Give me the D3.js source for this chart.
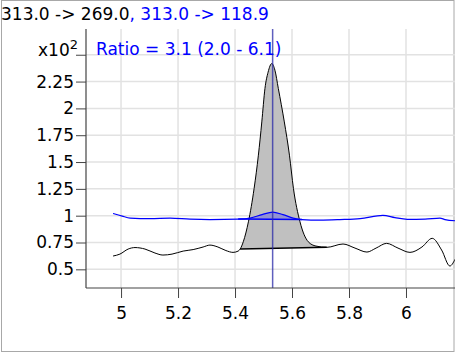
<!DOCTYPE html>
<html>
<head>
<meta charset="utf-8">
<script src="https://cdn.jsdelivr.net/npm/d3@7"></script>
<style>
  html, body { margin: 0; padding: 0; background: #fff; }
  svg { display: block; font-family: "DejaVu Sans", sans-serif; }
</style>
</head>
<body>
<div id="chart"></div>
<script>
// retention times (min) and intensities for the two transitions
const lightTimes = [4.972, 4.996, 5.025, 5.049, 5.084, 5.119, 5.147, 5.179, 5.218, 5.253, 5.288, 5.312,
  5.340, 5.368, 5.393, 5.411, 5.418, 5.429, 5.447, 5.467, 5.482, 5.494, 5.505, 5.516, 5.529, 5.540,
  5.552, 5.573, 5.591, 5.605, 5.628, 5.657, 5.684, 5.722, 5.779, 5.821, 5.863, 5.895, 5.932, 5.972,
  6.014, 6.056, 6.092, 6.125, 6.154, 6.172];
const lightValues = [62.4, 64.2, 68.9, 70.3, 68.9, 65.2, 63.3, 64.2, 67.0, 68.4, 70.8, 72.6,
  70.8, 67.5, 65.8, 67.0, 68.9, 75.7, 94.3, 125.4, 156.4, 187.4, 218.5, 233.7, 241.8, 235.6,
  218.5, 187.4, 156.4, 125.4, 94.3, 75.7, 71.7, 70.5, 73.6, 69.8, 66.1, 69.8, 74.2, 69.8,
  65.8, 70.8, 78.9, 68.0, 53.1, 59.3];

const heavyTimes = [4.972, 5.004, 5.032, 5.102, 5.172, 5.242, 5.312, 5.411, 5.453, 5.495, 5.532,
  5.568, 5.604, 5.635, 5.698, 5.768, 5.839, 5.919, 5.961, 6.004, 6.067, 6.119, 6.137, 6.172];
const heavyValues = [102.1, 99.6, 97.8, 97.3, 97.8, 96.8, 96.4, 96.8, 97.8, 101.0, 103.4,
  101.0, 97.8, 96.4, 95.9, 96.4, 97.3, 100.3, 98.2, 96.6, 96.8, 97.8, 96.4, 95.3];

// integration boundaries [start, end] for each peak
const lightPeak = [5.418, 5.722];
const heavyPeak = [5.411, 5.635];
const retentionTime = 5.532;

const xTicks = [5, 5.2, 5.4, 5.6, 5.8, 6];
const yTicks = [50, 75, 100, 125, 150, 175, 200, 225, 250];

const width = 455, height = 353;
const margin = { top: 29, right: 0, bottom: 65, left: 86 };
const plotW = width - margin.left - margin.right;
const plotH = height - margin.top - margin.bottom;

const svg = d3.select("#chart").append("svg")
  .attr("width", width)
  .attr("height", height);

// outer frame
svg.append("rect")
  .attr("x", 1.5).attr("y", 0.5)
  .attr("width", width - 2.5).attr("height", height - 2)
  .attr("fill", "none")
  .attr("stroke", "#a8a8a8");

const x = d3.scaleLinear().domain([4.877, 6.172]).range([0, plotW]);
const y = d3.scaleLinear().domain([32.6, 274]).range([plotH, 0]);

const g = svg.append("g").attr("transform", `translate(${margin.left},${margin.top})`);

svg.append("defs").append("clipPath").attr("id", "plot-clip")
  .append("rect").attr("width", plotW).attr("height", plotH);

// grid
g.append("g").selectAll("line.vg").data(xTicks).join("line")
  .attr("x1", d => x(d)).attr("x2", d => x(d))
  .attr("y1", 0).attr("y2", plotH)
  .attr("stroke", "#e2e2e2").attr("stroke-width", 1.5);
g.append("g").selectAll("line.hg").data(yTicks).join("line")
  .attr("x1", 0).attr("x2", plotW)
  .attr("y1", d => y(d)).attr("y2", d => y(d))
  .attr("stroke", "#e2e2e2").attr("stroke-width", 1.5);

const light = lightTimes.map((t, i) => ({ t, v: lightValues[i] }));
const heavy = heavyTimes.map((t, i) => ({ t, v: heavyValues[i] }));

const line = d3.line().x(d => x(d.t)).y(d => y(d.v)).curve(d3.curveMonotoneX);

const plot = g.append("g").attr("clip-path", "url(#plot-clip)");

// filled peak areas, closed by a straight baseline
function drawPeak(data, bounds, fill, stroke) {
  const pts = data.filter(d => d.t >= bounds[0] && d.t <= bounds[1]);
  const first = pts[0], last = pts[pts.length - 1];
  const path = line(pts) + `L${x(first.t)},${y(first.v)}Z`;
  plot.append("path")
    .attr("d", path)
    .attr("fill", fill)
    .attr("stroke", "none");
  plot.append("line")
    .attr("x1", x(first.t)).attr("y1", y(first.v))
    .attr("x2", x(last.t)).attr("y2", y(last.v))
    .attr("stroke", stroke).attr("stroke-width", 1.5);
}

drawPeak(light, lightPeak, "#c0c0c0", "#000");

plot.append("path")
  .datum(light)
  .attr("d", line)
  .attr("fill", "none")
  .attr("stroke", "#000")
  .attr("stroke-width", 1);

drawPeak(heavy, heavyPeak, "rgba(40,40,255,0.3)", "#0000ff");

plot.append("path")
  .datum(heavy)
  .attr("d", line)
  .attr("fill", "none")
  .attr("stroke", "#0000ff")
  .attr("stroke-width", 1.2);

// retention time marker
g.append("line")
  .attr("x1", x(retentionTime)).attr("x2", x(retentionTime))
  .attr("y1", 0).attr("y2", plotH)
  .attr("stroke", "#2a2aa8").attr("stroke-opacity", 0.75).attr("stroke-width", 1.5);

// axes
const yAxis = g.append("g")
  .call(d3.axisLeft(y).tickValues(yTicks).tickSize(10).tickPadding(2)
    .tickFormat(d => d === 250 ? "" : String(d / 100)));
const xAxis = g.append("g")
  .attr("transform", `translate(0,${plotH})`)
  .call(d3.axisBottom(x).tickValues(xTicks).tickSize(10).tickPadding(9)
    .tickFormat(d => String(d)));

[xAxis, yAxis].forEach(a => {
  a.select(".domain").attr("stroke", "#444").attr("stroke-width", 1.2);
  a.selectAll(".tick line").attr("stroke", "#444");
  a.selectAll("text").attr("font-size", 17).attr("fill", "#000")
    .attr("font-family", "DejaVu Sans, sans-serif");
});
// y axis line runs the full height
yAxis.select(".domain").attr("d", `M0,0V${plotH}`);
xAxis.select(".domain").attr("d", `M0,0H${plotW}`);

// x10^2 multiplier in place of the top label
const mult = g.append("text")
  .attr("x", -8).attr("y", y(250) + 1)
  .attr("text-anchor", "end")
  .attr("font-size", 17);
mult.append("tspan").text("x10");
mult.append("tspan").attr("dy", -7).attr("font-size", 13).text("2");

// title
const title = svg.append("text").attr("x", 1).attr("y", 20).attr("font-size", 17);
title.append("tspan").attr("fill", "#000").text("313.0 -> 269.0");
title.append("tspan").attr("fill", "#0000ff").text(", 313.0 -> 118.9");

svg.append("text")
  .attr("x", 96).attr("y", 55)
  .attr("font-size", 17)
  .attr("fill", "#0000ff")
  .text("Ratio = 3.1 (2.0 - 6.1)");
</script>
</body>
</html>
